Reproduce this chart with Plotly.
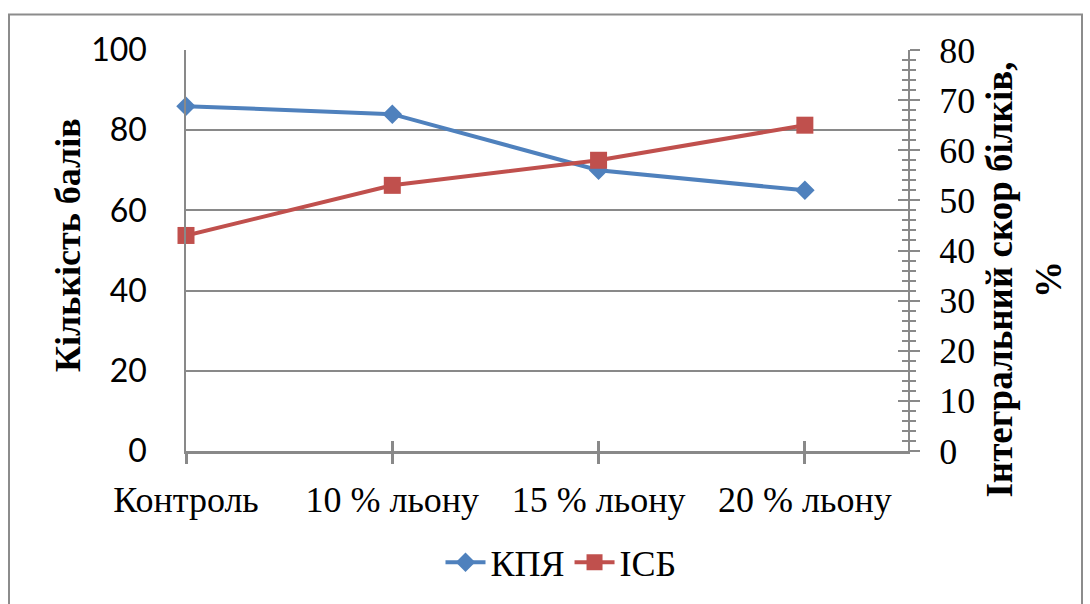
import plotly.graph_objects as go

categories = ["Контроль", "10 % льону", "15 % льону", "20 % льону"]
kpya = [86, 84, 70, 65]        # left axis, points
isb = [43, 53, 58, 65]         # right axis, %

left_ticks = [0, 20, 40, 60, 80, 100]
right_ticks = [0, 10, 20, 30, 40, 50, 60, 70, 80]

left_title = "Кількість балів"
right_title = "Інтегральний скор білків,<br>%"

BLUE = "#4F81BD"
RED = "#C0504D"
GRID = "#898989"
SERIF = "Liberation Serif"
SANS = "Lato"

fig = go.Figure()
fig.add_trace(go.Scatter(
    x=categories, y=kpya, name="КПЯ", mode="lines+markers",
    line=dict(color=BLUE, width=4),
    marker=dict(symbol="diamond", size=15, color=BLUE),
    cliponaxis=False, xaxis="x", yaxis="y",
))
fig.add_trace(go.Scatter(
    x=categories, y=isb, name="ІСБ", mode="lines+markers",
    line=dict(color=RED, width=4),
    marker=dict(symbol="square", size=17, color=RED),
    cliponaxis=False, xaxis="x", yaxis="y2",
))
# invisible helper traces so the overlay axes (crossing tick marks) are drawn
fig.add_trace(go.Scatter(x=categories, y=[None] * 4, xaxis="x2", yaxis="y",
                         showlegend=False, hoverinfo="skip"))
fig.add_trace(go.Scatter(x=categories, y=[None] * 4, xaxis="x", yaxis="y3",
                         showlegend=False, hoverinfo="skip"))

L, R, T, B = 186, 908, 50, 457
W, H = 1090, 604


def px_x(p):
    return (p - L) / (R - L)


def px_y(p):
    return (B - p) / (B - T)


fig.update_layout(
    width=W, height=H,
    margin=dict(l=L, r=W - R, t=T, b=H - B),
    paper_bgcolor="white", plot_bgcolor="white",
    showlegend=True,
    legend=dict(
        orientation="h", x=px_x(561), y=px_y(570),
        xanchor="center", yanchor="middle",
        font=dict(family=SERIF, size=36, color="black"),
        itemwidth=40, traceorder="normal",
    ),
    xaxis=dict(
        type="category", categoryorder="array", categoryarray=categories,
        range=[0, 3.5], showgrid=False, zeroline=False,
        showline=True, linecolor=GRID, linewidth=3,
        ticks="outside", ticklen=10, tickwidth=3, tickcolor=GRID,
        tickfont=dict(family=SERIF, size=36, color="black"),
        ticklabelstandoff=5,
    ),
    xaxis2=dict(
        type="category", categoryorder="array", categoryarray=categories,
        overlaying="x", matches="x", anchor="y", side="bottom",
        showgrid=False, zeroline=False, showline=False,
        ticks="inside", ticklen=10, tickwidth=3, tickcolor=GRID,
        showticklabels=False,
    ),
    yaxis=dict(
        range=[0, 100], tickvals=left_ticks, showgrid=True,
        gridcolor=GRID, gridwidth=1.5, zeroline=False,
        showline=True, linecolor=GRID, linewidth=1.5,
        ticks="", tickfont=dict(family=SANS, size=32, color="black"),
        ticklabelstandoff=31,
    ),
    yaxis2=dict(
        range=[0, 80], tickvals=right_ticks, overlaying="y", side="right",
        anchor="x", showgrid=False, zeroline=False,
        showline=True, linecolor=GRID, linewidth=2,
        ticks="outside", ticklen=10, tickwidth=2, tickcolor=GRID,
        minor=dict(ticks="outside", ticklen=6, tickwidth=1.5, tickcolor=GRID, dtick=2),
        tickfont=dict(family=SERIF, size=36, color="black"),
        ticklabelstandoff=12,
    ),
    yaxis3=dict(
        range=[0, 80], tickvals=right_ticks, overlaying="y", side="right",
        anchor="x", showgrid=False, zeroline=False, showline=False,
        ticks="inside", ticklen=10, tickwidth=2, tickcolor=GRID,
        minor=dict(ticks="inside", ticklen=6, tickwidth=1.5, tickcolor=GRID, dtick=2),
        showticklabels=False,
    ),
    annotations=[
        dict(text=f"<b>{left_title}</b>", textangle=-90,
             xref="paper", yref="paper", x=px_x(68), y=px_y(248),
             xanchor="center", yanchor="middle", showarrow=False,
             font=dict(family=SERIF, size=36, color="black")),
        dict(text=f"<b>{right_title}</b>", textangle=-90,
             xref="paper", yref="paper", x=px_x(1024), y=px_y(283),
             xanchor="center", yanchor="middle", showarrow=False,
             font=dict(family=SERIF, size=37, color="black")),
    ],
    shapes=[dict(
        type="rect", xref="paper", yref="paper",
        x0=px_x(9), x1=px_x(1082), y0=px_y(640), y1=px_y(14),
        line=dict(color="#8c8c8c", width=2), fillcolor="rgba(0,0,0,0)",
        layer="below",
    )],
)

fig.write_html("out.html")
